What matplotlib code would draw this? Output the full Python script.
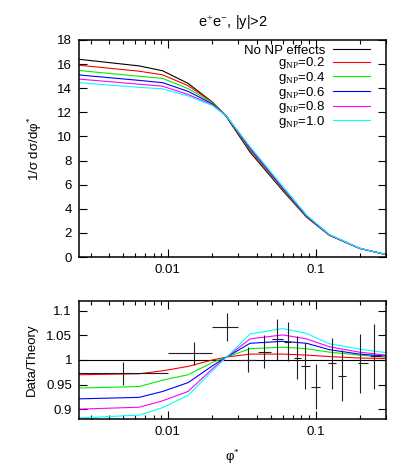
import matplotlib
matplotlib.use("Agg")
import matplotlib.pyplot as plt
from matplotlib.ticker import FixedLocator, NullFormatter, LogLocator, MultipleLocator, FixedFormatter

plt.rcParams['font.family'] = ['Liberation Sans', 'DejaVu Sans']
plt.rcParams['mathtext.fontset'] = 'custom'
plt.rcParams['mathtext.rm'] = 'Liberation Serif'
plt.rcParams['mathtext.it'] = 'Liberation Sans:italic'
plt.rcParams['mathtext.sf'] = 'Liberation Sans'

# ---- data ----
phi_theory = [0.0025, 0.0064, 0.0092, 0.0137, 0.02, 0.025, 0.036, 0.06, 0.087, 0.124, 0.198, 0.3]
xs_nonp = [16.4, 15.85, 15.45, 14.4, 12.85, 11.6, 8.7, 5.5, 3.3, 1.8, 0.72, 0.2]
xs_g02 = [15.91, 15.41, 15.11, 14.21, 12.85, 11.67, 8.80, 5.57, 3.33, 1.81, 0.72, 0.20]
xs_g04 = [15.47, 14.99, 14.82, 13.97, 12.79, 11.67, 8.90, 5.64, 3.38, 1.83, 0.73, 0.20]
xs_g06 = [15.10, 14.65, 14.46, 13.74, 12.70, 11.67, 9.00, 5.71, 3.41, 1.84, 0.73, 0.20]
xs_g08 = [14.76, 14.33, 14.17, 13.48, 12.62, 11.67, 9.07, 5.78, 3.44, 1.85, 0.73, 0.20]
xs_g10 = [14.46, 14.07, 13.95, 13.36, 12.57, 11.67, 9.16, 5.85, 3.48, 1.86, 0.74, 0.20]

r_nonp = [1.0, 1.0, 1.0, 1.0, 1.0, 1.0, 1.0, 1.0, 1.0, 1.0, 1.0, 1.0]
r_g02 = [0.970, 0.972, 0.978, 0.987, 1.000, 1.006, 1.012, 1.012, 1.010, 1.007, 1.004, 1.003]
r_g04 = [0.943, 0.946, 0.959, 0.970, 0.995, 1.006, 1.023, 1.026, 1.023, 1.016, 1.010, 1.006]
r_g06 = [0.921, 0.924, 0.936, 0.954, 0.988, 1.006, 1.034, 1.038, 1.034, 1.021, 1.012, 1.008]
r_g08 = [0.900, 0.904, 0.917, 0.936, 0.982, 1.006, 1.043, 1.051, 1.043, 1.027, 1.016, 1.010]
r_g10 = [0.882, 0.888, 0.903, 0.928, 0.978, 1.006, 1.053, 1.064, 1.054, 1.033, 1.022, 1.015]

phi_data = [0.005, 0.015, 0.025, 0.035, 0.045, 0.055, 0.065, 0.075, 0.085, 0.1, 0.13, 0.15, 0.2, 0.25]
phi_err_lo = [0.0049, 0.005, 0.005, 0.0044, 0.004, 0.004, 0.0035, 0.004, 0.005, 0.0065, 0.008, 0.009, 0.007, 0.018]
phi_err_hi = [0.005, 0.005, 0.005, 0.0047, 0.005, 0.005, 0.0035, 0.005, 0.007, 0.0065, 0.008, 0.011, 0.025, 0.028]
ratio_data = [0.973, 1.0135, 1.067, 1.001, 1.017, 1.042, 1.037, 1.005, 0.988, 0.946, 0.993, 0.968, 0.993, 1.008]
ratio_err = [0.023, 0.024, 0.028, 0.026, 0.033, 0.041, 0.04, 0.044, 0.046, 0.046, 0.052, 0.052, 0.06, 0.066]

labels = ['No NP effects', r'g$_{\mathrm{NP}}$=0.2', r'g$_{\mathrm{NP}}$=0.4',
          r'g$_{\mathrm{NP}}$=0.6', r'g$_{\mathrm{NP}}$=0.8', r'g$_{\mathrm{NP}}$=1.0']
colors = ['#000000', '#ff0000', '#00ee00', '#0000ff', '#ff00ff', '#00ffff']

top_series = [xs_nonp, xs_g02, xs_g04, xs_g06, xs_g08, xs_g10]
ratio_series = [r_nonp, r_g02, r_g04, r_g06, r_g08, r_g10]

W, H = 407, 475
fig = plt.figure(figsize=(W / 100, H / 100), dpi=100)
ax1 = fig.add_axes([79 / W, 1 - 257 / H, 307 / W, 217 / H])
ax2 = fig.add_axes([79 / W, 1 - 419 / H, 307 / W, 118 / H])

for ys, c, lab in zip(top_series, colors, labels):
    ax1.plot(phi_theory, ys, color=c, lw=0.8, label=lab)

for ys, c in zip(ratio_series, colors):
    ax2.plot(phi_theory, ys, color=c, lw=0.8)

ax2.errorbar(phi_data, ratio_data, xerr=[phi_err_lo, phi_err_hi], yerr=ratio_err,
             fmt='none', ecolor='#202020', elinewidth=0.8, capsize=0)

for ax in (ax1, ax2):
    ax.set_xscale('log')
    ax.set_xlim(0.0025, 0.3)
    ax.xaxis.set_major_locator(FixedLocator([0.01, 0.1]))
    ax.xaxis.set_major_formatter(FixedFormatter(['0.01', '0.1']))
    ax.xaxis.set_minor_locator(LogLocator(base=10, subs=range(2, 10), numticks=20))
    ax.xaxis.set_minor_formatter(NullFormatter())
    ax.tick_params(which='both', direction='in', top=True, right=True, labelsize=9.5, pad=5)
    ax.tick_params(which='major', length=6, width=0.8)
    ax.tick_params(which='minor', length=3, width=0.8)
    for s in ax.spines.values():
        s.set_linewidth(1.1)

ax1.set_ylim(0, 18)
ax1.yaxis.set_major_locator(MultipleLocator(2))
ax2.set_ylim(0.88, 1.12)
ax2.yaxis.set_major_locator(FixedLocator([0.9, 0.95, 1.0, 1.05, 1.1]))
ax2.yaxis.set_major_formatter(FixedFormatter(['0.9', '0.95', '1', '1.05', '1.1']))

ax1.set_title(r'e$^{+}$e$^{-}$, |y|>2', fontsize=10.5, pad=9)
ax1.set_ylabel(r'1/σ dσ/dφ$^{*}$', fontsize=9.5, labelpad=9)
ax2.set_ylabel('Data/Theory', fontsize=9.5, labelpad=6)
ax2.set_xlabel(r'φ$^{*}$', fontsize=9.5, labelpad=8)

leg = ax1.legend(loc='upper right', frameon=False, markerfirst=False, fontsize=9.5,
                 handlelength=2.8, handletextpad=0.6, labelspacing=-0.1,
                 borderaxespad=0.0, borderpad=0.0, bbox_to_anchor=(0.948, 0.98))

fig.savefig('out.png', dpi=100)
